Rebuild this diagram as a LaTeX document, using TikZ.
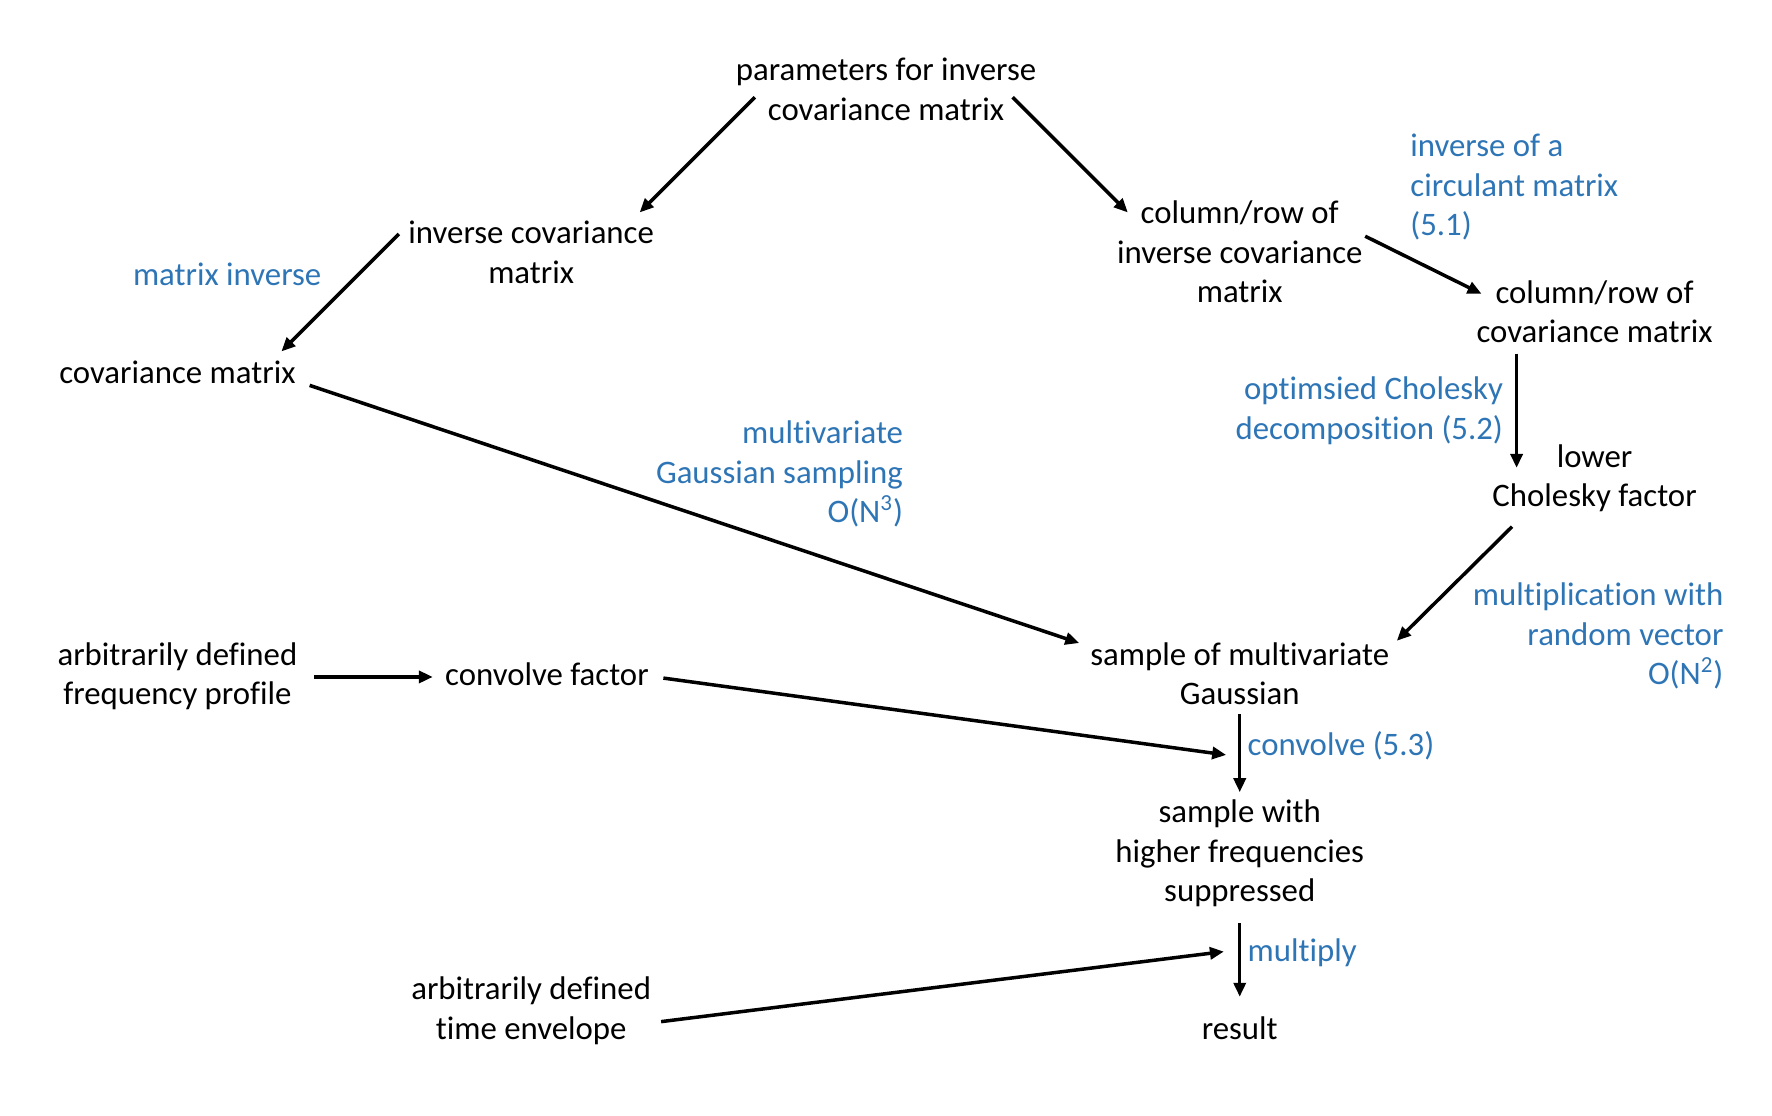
\documentclass[tikz,border=0pt]{standalone}
\usepackage{fontspec}
\setmainfont[Ligatures={NoCommon,NoContextual}]{Carlito}
\usetikzlibrary{arrows.meta}
\definecolor{annblue}{RGB}{46,117,182}
\newcommand\mystrut{\rule[-0.23\baselineskip]{0pt}{\baselineskip}}
\begin{document}
\begin{tikzpicture}[x=0.565pt,y=-0.565pt,
  every node/.style={inner sep=0pt,outer sep=0pt,font=\fontsize{16.4}{19.8}\selectfont},
  lbl/.style={align=center},
  ann/.style={text=annblue},
  arr/.style={line width=1.75pt,-{Triangle[length=7pt,width=6pt]}}]
\useasboundingbox (0,0) rectangle (1568,987.5);
% nodes
\node[lbl] (params) at (784,79.5) {\mystrut parameters for inverse\\\mystrut covariance matrix};
\node[lbl] (invcov) at (470,223.5) {\mystrut inverse covariance\\\mystrut matrix};
\node[lbl] (colinv) at (1097,223.5) {\mystrut column/row of\\\mystrut inverse covariance\\\mystrut matrix};
\node[ann,align=left,anchor=west] (circ) at (1248,164.3) {\mystrut inverse of a\\\mystrut circulant matrix\\\mystrut (5.1)};
\node[ann] (matinv) at (201,243) {\mystrut matrix inverse};
\node[lbl] (cov) at (157,330) {\mystrut covariance matrix};
\node[lbl] (colcov) at (1411,276.5) {\mystrut column/row of\\\mystrut covariance matrix};
\node[ann,align=right,anchor=east] (chol) at (1330,361.5) {\mystrut optimsied Cholesky\\\mystrut decomposition (5.2)};
\node[lbl] (lower) at (1411,421.5) {\mystrut lower\\\mystrut Cholesky factor};
\node[ann,align=right,anchor=east] (mvg) at (799,418) {\mystrut multivariate\\\mystrut Gaussian sampling\\\mystrut O(N\textsuperscript{3})};
\node[ann,align=right,anchor=east] (multr) at (1525,561.3) {\mystrut multiplication with\\\mystrut random vector\\\mystrut O(N\textsuperscript{2})};
\node[lbl] (freq) at (157,596.5) {\mystrut arbitrarily defined\\\mystrut frequency profile};
\node[lbl] (convf) at (484,597) {\mystrut convolve factor};
\node[lbl] (sample) at (1097,596.5) {\mystrut sample of multivariate\\\mystrut Gaussian};
\node[ann,anchor=west] (conv53) at (1104,659) {\mystrut convolve (5.3)};
\node[lbl] (suppr) at (1097,753.3) {\mystrut sample with\\\mystrut higher frequencies\\\mystrut suppressed};
\node[ann,anchor=west] (multiply) at (1104,841) {\mystrut multiply};
\node[lbl] (env) at (470,892.5) {\mystrut arbitrarily defined\\\mystrut time envelope};
\node[lbl] (result) at (1097,910) {\mystrut result};
\coordinate (c1) at (1085,668);
\coordinate (c2) at (1083,842);
% connectors
\draw[arr] ([shift={(-116,6.5)}]params.center) -- ([shift={(96,-35.5)}]invcov.center);
\draw[arr] ([shift={(112,6.5)}]params.center) -- ([shift={(-99,-35.5)}]colinv.center);
\draw[arr] ([shift={(-117,-16.5)}]invcov.center) -- ([shift={(92,-19)}]cov.center);
\draw[arr] ([shift={(111,-14.5)}]colinv.center) -- ([shift={(-100,-16.5)}]colcov.center);
\draw[arr] ([shift={(-69,36.5)}]colcov.center) -- ([shift={(-69,-7.5)}]lower.center);
\draw[arr] ([shift={(117,11)}]cov.center) -- ([shift={(-142,-27.5)}]sample.center);
\draw[arr] ([shift={(-73,44.5)}]lower.center) -- ([shift={(139,-29.5)}]sample.center);
\draw[arr] ([shift={(121,2.5)}]freq.center) -- ([shift={(-101,2)}]convf.center);
\draw[arr] ([shift={(103,3)}]convf.center) -- (c1);
\draw[arr] ([shift={(0,35.5)}]sample.center) -- ([shift={(0,-52.3)}]suppr.center);
\draw[arr] ([shift={(115,11.5)}]env.center) -- (c2);
\draw[arr] ([shift={(0,63.7)}]suppr.center) -- ([shift={(0,-28)}]result.center);
\end{tikzpicture}
\end{document}
